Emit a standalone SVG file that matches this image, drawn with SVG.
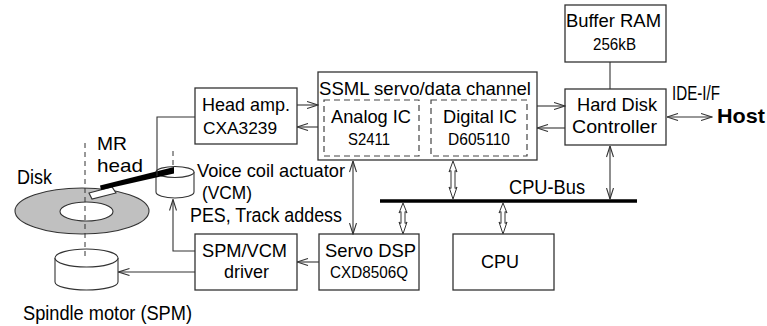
<svg xmlns="http://www.w3.org/2000/svg" width="767" height="326" viewBox="0 0 767 326">
  <style>
    .box { fill: #fff; stroke: #333; stroke-width: 1.3; }
    .dbox { fill: none; stroke: #444; stroke-width: 1.2; stroke-dasharray: 6 4; }
    .ln { fill: none; stroke: #333; stroke-width: 1.1; }
    .axis { fill: none; stroke: #333; stroke-width: 1; stroke-dasharray: 5 4; }
    .lens { fill: #fff; stroke: #333; stroke-width: 1; stroke-linejoin: miter; }
    text { font-family: "Liberation Sans", Arial, Helvetica, sans-serif; fill: #000; }
    .in { font-size: 18.5px; }
    .sub { font-size: 16.5px; }
    .lbl { font-size: 20.5px; }
    .tight { font-size: 19px; }
    .bold { font-size: 21px; font-weight: bold; }
  </style>
  <defs>
    <marker id="arr" viewBox="0 0 12 8" refX="11.5" refY="4" markerWidth="12" markerHeight="8" markerUnits="userSpaceOnUse" orient="auto-start-reverse">
      <path d="M0.5,0.5 L11.5,4 L0.5,7.5" fill="none" stroke="#333" stroke-width="1.1"/>
    </marker>
  </defs>

  <!-- mechanical parts: disk, spindle motor, head arm, voice coil -->
  <g id="disk">
    <ellipse cx="82" cy="211" rx="67" ry="23" fill="#c0c0c0" stroke="#333" stroke-width="1.1"/>
    <ellipse cx="86.5" cy="211.5" rx="26.5" ry="9.5" fill="#fff" stroke="#333" stroke-width="1.1"/>
    <text class="lbl" x="17" y="184" textLength="35" lengthAdjust="spacingAndGlyphs">Disk</text>
  </g>
  <g id="spindle-motor">
    <path d="M55,258 L55,282 A31.5,8 0 0 0 118,282 L118,258" fill="#fff" stroke="#333" stroke-width="1.1"/>
    <ellipse cx="86.5" cy="258" rx="31.5" ry="9" fill="#fff" stroke="#333" stroke-width="1.1"/>
    <text class="lbl" x="23" y="320" textLength="169" lengthAdjust="spacingAndGlyphs">Spindle motor (SPM)</text>
  </g>
  <path class="axis" d="M85,143 V257"/>
  <g id="vcm">
    <path d="M156,172 L156,192 A19,6 0 0 0 194,192 L194,172" fill="#fff" stroke="#333" stroke-width="1.1"/>
    <ellipse cx="175" cy="172" rx="19" ry="5.5" fill="#fff" stroke="#333" stroke-width="1.1"/>
    <path class="axis" d="M173,151 V168"/>
    <text class="tight" x="197" y="177" textLength="148" lengthAdjust="spacingAndGlyphs">Voice coil actuator</text>
    <text class="tight" x="202" y="199" textLength="50" lengthAdjust="spacingAndGlyphs">(VCM)</text>
  </g>
  <g id="mr-head">
    <polygon points="89,193 112,187 116,193 92,199" fill="#fff" stroke="#333" stroke-width="1.1"/>
    <polygon points="100,185.5 174,167 174,173.5 101,190" fill="#000"/>
    <text class="tight" x="97" y="150" textLength="30" lengthAdjust="spacingAndGlyphs">MR</text>
    <text class="tight" x="97" y="172" textLength="46" lengthAdjust="spacingAndGlyphs">head</text>
  </g>

  <!-- electronic blocks -->
  <g id="head-amp">
    <rect class="box" x="195" y="88" width="102" height="56"/>
    <text class="in" x="202" y="111" textLength="88" lengthAdjust="spacingAndGlyphs">Head amp.</text>
    <text class="sub" x="203" y="134" textLength="74" lengthAdjust="spacingAndGlyphs">CXA3239</text>
  </g>
  <g id="ssml-channel">
    <rect class="box" x="318" y="72" width="219" height="88"/>
    <text class="in" x="319" y="95" textLength="212" lengthAdjust="spacingAndGlyphs">SSML servo/data channel</text>
  </g>
  <g id="analog-ic">
    <rect class="dbox" x="324" y="100" width="95" height="56"/>
    <text class="in" x="331" y="123" textLength="80" lengthAdjust="spacingAndGlyphs">Analog IC</text>
    <text class="sub" x="348" y="145" textLength="42" lengthAdjust="spacingAndGlyphs">S2411</text>
  </g>
  <g id="digital-ic">
    <rect class="dbox" x="431" y="100" width="96" height="56"/>
    <text class="in" x="443" y="123" textLength="74" lengthAdjust="spacingAndGlyphs">Digital IC</text>
    <text class="sub" x="448" y="145" textLength="62" lengthAdjust="spacingAndGlyphs">D605110</text>
  </g>
  <g id="buffer-ram">
    <rect class="box" x="565" y="5" width="101" height="57"/>
    <text class="in" x="566" y="27" textLength="95" lengthAdjust="spacingAndGlyphs">Buffer RAM</text>
    <text class="sub" x="593" y="50" textLength="43" lengthAdjust="spacingAndGlyphs">256kB</text>
  </g>
  <g id="hdc">
    <rect class="box" x="565" y="89" width="101" height="56"/>
    <text class="in" x="577" y="111" textLength="80" lengthAdjust="spacingAndGlyphs">Hard Disk</text>
    <text class="in" x="572" y="133" textLength="85" lengthAdjust="spacingAndGlyphs">Controller</text>
  </g>
  <g id="host">
    <text class="lbl" x="672" y="100" textLength="48" lengthAdjust="spacingAndGlyphs">IDE-I/F</text>
    <text class="bold" x="717" y="123" textLength="48" lengthAdjust="spacingAndGlyphs">Host</text>
  </g>
  <g id="servo-dsp">
    <rect class="box" x="319" y="234" width="100" height="56"/>
    <text class="in" x="325" y="257" textLength="91" lengthAdjust="spacingAndGlyphs">Servo DSP</text>
    <text class="sub" x="330" y="278" textLength="78" lengthAdjust="spacingAndGlyphs">CXD8506Q</text>
  </g>
  <g id="cpu">
    <rect class="box" x="453" y="234" width="101" height="56"/>
    <text class="in" x="481" y="268" textLength="38" lengthAdjust="spacingAndGlyphs">CPU</text>
  </g>
  <g id="spm-vcm-driver">
    <rect class="box" x="195" y="234" width="102" height="56"/>
    <text class="in" x="202" y="257" textLength="85" lengthAdjust="spacingAndGlyphs">SPM/VCM</text>
    <text class="in" x="224" y="278" textLength="45" lengthAdjust="spacingAndGlyphs">driver</text>
  </g>
  <g id="cpu-bus">
    <path d="M380,201 H637" stroke="#000" stroke-width="3.5"/>
    <text class="lbl" x="509" y="194" textLength="76" lengthAdjust="spacingAndGlyphs">CPU-Bus</text>
  </g>

  <!-- connectors -->
  <g id="connectors">
    <path class="ln" d="M195,117 H157 V176"/>
    <path class="ln" d="M195,251 H173 V199.5" marker-end="url(#arr)"/>
    <path class="ln" d="M195,272 H118.5" marker-end="url(#arr)"/>
    <path class="ln" d="M297,105 H318" marker-end="url(#arr)"/>
    <path class="ln" d="M318,127 H297" marker-end="url(#arr)"/>
    <path class="ln" d="M537,106 H565" marker-end="url(#arr)"/>
    <path class="ln" d="M565,128 H537" marker-end="url(#arr)"/>
    <path class="ln" d="M610,62 V89"/>
    <path class="ln" d="M667,117 H712" marker-start="url(#arr)" marker-end="url(#arr)"/>
    <path class="ln" d="M610,146 V199" marker-start="url(#arr)" marker-end="url(#arr)"/>
    <path class="ln" d="M353,161 V234" marker-start="url(#arr)" marker-end="url(#arr)"/>
    <path class="ln" d="M297,262 H319" marker-start="url(#arr)"/>
    <text class="lbl" x="190" y="222" textLength="152" lengthAdjust="spacingAndGlyphs">PES, Track addess</text>
    <!-- hollow double arrows to and from the bus -->
    <path class="lens" d="M453,161 L457,172 L455,170.5 L455,188.5 L457,187 L453,199 L449,187 L451,188.5 L451,170.5 L449,172 Z"/>
    <path class="lens" d="M403,203 L407,213 L405,211.5 L405,223.5 L407,222 L403,234 L399,222 L401,223.5 L401,211.5 L399,213 Z"/>
    <path class="lens" d="M503,203 L507,213 L505,211.5 L505,223.5 L507,222 L503,234 L499,222 L501,223.5 L501,211.5 L499,213 Z"/>
  </g>
</svg>
